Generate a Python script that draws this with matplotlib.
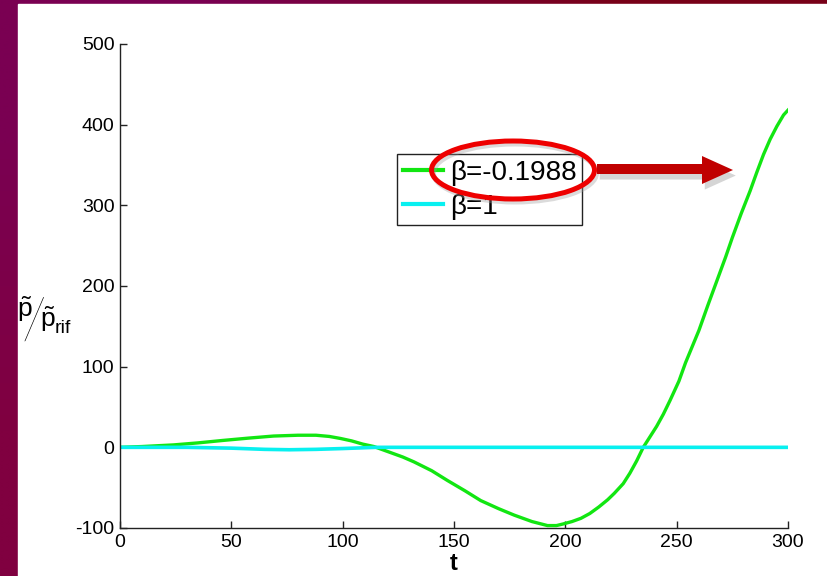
import numpy as np
import matplotlib
matplotlib.use("Agg")
import matplotlib.pyplot as plt
import matplotlib.patches as mpatches
import matplotlib.patheffects as pe

plt.rcParams['font.family'] = ['Liberation Sans', 'DejaVu Sans']
plt.rcParams['mathtext.fontset'] = 'custom'
plt.rcParams['mathtext.rm'] = 'Liberation Sans'
plt.rcParams['axes.unicode_minus'] = False

# data
t_green = [0, 10, 24, 35, 46, 58, 69, 80, 88, 94, 99, 104, 109, 114, 121, 127,
           132, 140, 147, 155, 162, 170, 177, 185, 192, 196, 199, 203, 207, 211,
           215, 219, 222, 226, 229, 232, 235, 238, 241, 244, 247, 251, 254, 257,
           260, 264, 268, 272, 275, 279, 283, 286, 289, 292, 295, 298, 300]
p_green = [0, 1, 3, 5.5, 8.5, 11.5, 14, 15, 15, 13.5, 11, 8, 4, 1, -6, -12,
           -18, -29, -41, -54, -66, -76, -84, -92, -97, -97, -95, -92, -88, -82,
           -74, -65, -57, -45, -32, -17, 0, 13, 26, 41, 58, 82, 105, 125,
           145, 176, 206, 236, 260, 290, 318, 341, 363, 382, 398, 412, 418]
t_cyan = [0, 30, 50, 65, 76, 88, 100, 115, 150, 200, 250, 300]
p_cyan = [0, 0, -1, -2.5, -3, -2.5, -1.5, 0, 0, 0, 0, 0]
labels = ['\u03b2=-0.1988', '\u03b2=1']
xticks = [0, 50, 100, 150, 200, 250, 300]
yticks = [-100, 0, 100, 200, 300, 400, 500]

W, H = 827, 576
fig = plt.figure(figsize=(W / 100, H / 100), dpi=100)

def fx(px):
    return px / W

def fy(py):
    return 1 - py / H

# slide background: maroon frame on left and top
bg = fig.add_axes([0, 0, 1, 1])
grad = np.array([[[0x7a, 0x00, 0x52], [0x78, 0x00, 0x18]],
                 [[0x80, 0x00, 0x40], [0x7a, 0x00, 0x10]]]) / 255
bg.imshow(grad, aspect='auto', interpolation='bilinear', extent=[0, 1, 0, 1])
bg.add_patch(mpatches.Rectangle((fx(18), 0), 1, fy(4), color='white'))
bg.set_xlim(0, 1)
bg.set_ylim(0, 1)
bg.axis('off')

ax = fig.add_axes([fx(120), fy(528), fx(788) - fx(120), fy(44) - fy(528)])
ax.patch.set_alpha(0)
ax.plot(t_green, p_green, color='#12e612', lw=2.4, label=labels[0])
ax.plot(t_cyan, p_cyan, color='#08f0f0', lw=2.6, label=labels[1])
ax.set_xlim(0, 300)
ax.set_ylim(-100, 500)
ax.set_xticks(xticks)
ax.set_yticks(yticks)
for s in ['top', 'right']:
    ax.spines[s].set_visible(False)
for s in ['left', 'bottom']:
    ax.spines[s].set_linewidth(1.0)
    ax.spines[s].set_color('#222222')
ax.tick_params(direction='in', length=5, width=1, labelsize=14, colors='#222222',
               labelcolor='black', pad=4)
ax.set_xlabel('t', fontsize=17, fontweight='bold', labelpad=1)

leg = ax.legend(loc='upper left', bbox_to_anchor=(fx(397), fy(154)),
                bbox_transform=fig.transFigure, fontsize=20, fancybox=False,
                framealpha=1, edgecolor='#222222', borderpad=0.2,
                labelspacing=0.3, handlelength=1.45, handletextpad=0.25,
                borderaxespad=0)
leg.get_frame().set_linewidth(1.0)
for line in leg.get_lines():
    line.set_linewidth(3)

# y label  p~ / p~_rif
fig.text(fx(17), fy(317), r'$\tilde{\mathrm{p}}$', fontsize=19, va='baseline')
fig.text(fx(21.5), fy(340), '/', fontsize=42, va='baseline',
         family=['Lato', 'Liberation Sans'], fontweight='light')
fig.text(fx(40), fy(327), r'$\tilde{\mathrm{p}}$', fontsize=19, va='baseline')
fig.text(fx(55), fy(333), 'rif', fontsize=14, va='baseline')

# red highlight ellipse and arrow
ell_sh = mpatches.Ellipse((fx(515), fy(173)), fx(163), 58 / H, fill=False,
                          edgecolor='#999999', alpha=0.35, lw=3.6,
                          transform=fig.transFigure, zorder=9)
fig.add_artist(ell_sh)
ell = mpatches.Ellipse((fx(513), fy(170)), fx(163), 58 / H, fill=False,
                       edgecolor='#ee0000', lw=3.6, transform=fig.transFigure,
                       zorder=10)
fig.add_artist(ell)
arrow_pts = [(597, 164), (702, 164), (702, 156), (733, 170), (702, 184),
             (702, 174), (597, 174)]
arr = mpatches.Polygon([(fx(a), fy(b)) for a, b in arrow_pts], closed=True,
                       facecolor='#c00000', edgecolor='none',
                       transform=fig.transFigure, zorder=9)
arr.set_path_effects([pe.SimplePatchShadow(offset=(2, -4), shadow_rgbFace='#888888',
                                           alpha=0.35), pe.Normal()])
fig.add_artist(arr)

fig.savefig('out.png', dpi=100)
